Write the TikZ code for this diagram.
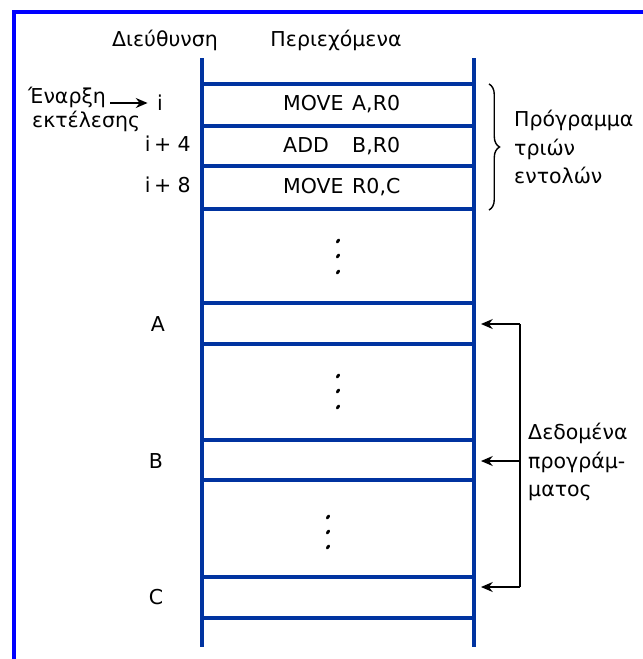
\documentclass[tikz,border=0pt]{standalone}
\usepackage{fontspec}
\setmainfont{DejaVu Sans}
\usetikzlibrary{arrows.meta,decorations.pathreplacing}
\definecolor{memblue}{RGB}{0,51,160}
\definecolor{frameblue}{RGB}{0,0,255}

\begin{document}
\begin{tikzpicture}[x=0.03cm,y=-0.03cm,
    font=\fontsize{17.5}{24.5}\selectfont,
    mem/.style={memblue,line width=2.8pt},
    frameline/.style={frameblue,line width=3.4pt},
    link/.style={-{Stealth[length=10pt,width=8.5pt]},line width=1.5pt},
    addr/.style={inner sep=0pt}]
  \path[use as bounding box] (0,0) rectangle (643,659);
  % frame (top and left side only)
  \draw[frameline] (14,659) -- (14,12) -- (643,12);
  % headers
  \node (hdraddr) at (165,40) {Διεύθυνση};
  \node (hdrcont) at (336,40) {Περιεχόμενα};
  % memory column
  \draw[mem] (202,58) -- (202,647);
  \draw[mem] (474,58) -- (474,647);
  \foreach \y in {84,126,166,209,303,344,440,480,577,618}
    \draw[mem] (202,\y) -- (474,\y);
  % instructions
  \node[anchor=west,inner sep=0pt] (instr1) at (283,104) {\makebox[2.07cm][l]{MOVE}A,R0};
  \node[anchor=west,inner sep=0pt] (instr2) at (283,146) {\makebox[2.07cm][l]{ADD}B,R0};
  \node[anchor=west,inner sep=0pt] (instr3) at (283,187) {\makebox[2.07cm][l]{MOVE}R0,C};
  % dots
  \foreach \x/\y in {338/241,338/256,338/272,338/376,338/391,338/407,328/517,328/532,328/547}
    \fill[black,rotate around={55:(\x,\y)}] (\x,\y) ellipse (2.6 and 1.6);
  % addresses
  \node[addr] (addri) at (160,103) {i};
  \node[addr,anchor=east] (addri4) at (191,144) {i\,+ 4};
  \node[addr,anchor=east] (addri8) at (191,185) {i\,+ 8};
  \node[addr] (addrA) at (158,324) {A};
  \node[addr] (addrB) at (156,461) {B};
  \node[addr] (addrC) at (156,597) {C};
  % start of execution
  \node[addr,anchor=west] (start) at (28,97) {Έναρξη};
  \node[addr,anchor=west] (start2) at (32,121) {εκτέλεσης};
  \coordinate (startarr) at (110,103);
  \draw[link,shorten >=8pt] (startarr) -- (addri.west);
  % program brace
  \draw[line width=1.2pt,decorate,decoration={brace,amplitude=9pt}]
    (489,84) -- (489,210);
  \node[anchor=west,align=left,inner sep=0pt] (prog) at (514,147) {Πρόγραμμα\\τριών\\εντολών};
  % program data
  \coordinate (dataA) at (520,324);
  \coordinate (dataB) at (520,461);
  \coordinate (dataC) at (520,587);
  \draw[line width=1.5pt] (dataA) -- (dataC);
  \draw[link] (dataA) -- (481,324);
  \draw[link] (dataB) -- (481,461);
  \draw[link] (dataC) -- (481,587);
  \node[anchor=west,align=left,inner sep=0pt] (data) at (528,462) {Δεδομένα\\προγράμ-\\ματος};
\end{tikzpicture}
\end{document}
